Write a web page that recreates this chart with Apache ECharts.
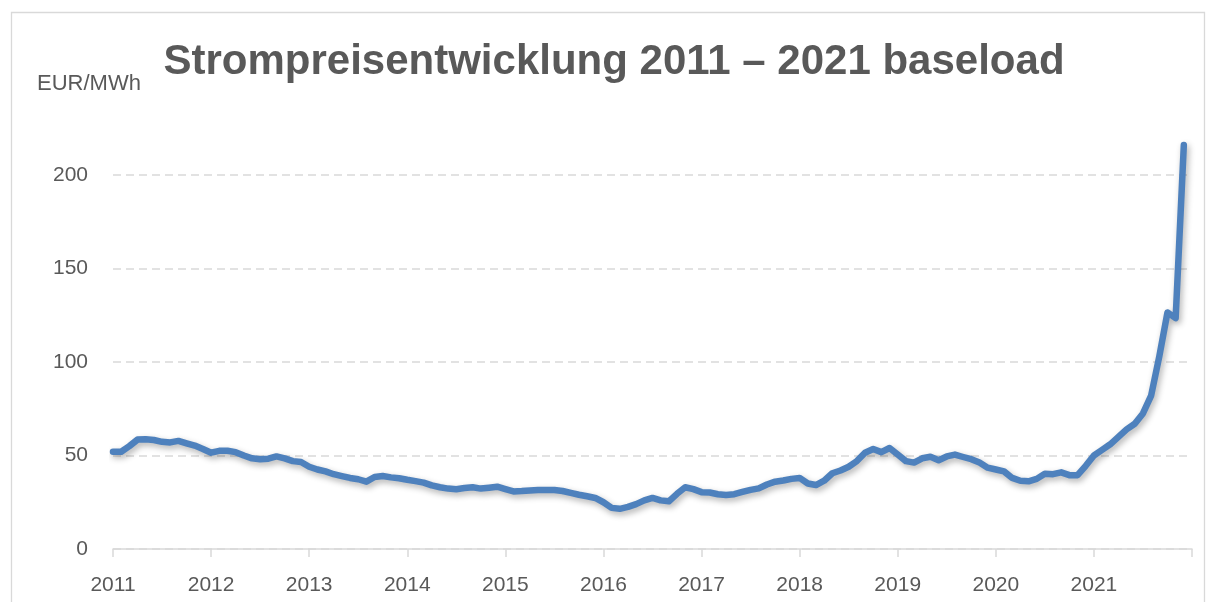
<!DOCTYPE html>
<html>
<head>
<meta charset="utf-8">
<script src="https://cdn.jsdelivr.net/npm/echarts@6/dist/echarts.min.js"></script>
<style>html,body{margin:0;padding:0;background:#fff}#c{width:1214px;height:602px}</style>
</head>
<body>
<div id="c"></div>
<script>
const years = ['2011','2012','2013','2014','2015','2016','2017','2018','2019','2020','2021'];
const yTicks = [0, 50, 100, 150, 200];
// monthly baseload price, EUR/MWh, Jan 2011 .. Dec 2021
const p2011 = [52, 52, 55, 58.5, 58.7, 58.3, 57.3, 57, 57.8, 56.5, 55.3, 53.5];
const p2012 = [51.5, 52.5, 52.5, 51.8, 50, 48.5, 48, 48.3, 49.5, 48.5, 47, 46.5];
const p2013 = [44, 42.5, 41.5, 40, 39, 38, 37.3, 36, 38.5, 39, 38.3, 37.8];
const p2014 = [37, 36.3, 35.5, 34, 33, 32.3, 32, 32.6, 33, 32.3, 32.8, 33.3];
const p2015 = [32, 30.8, 31, 31.3, 31.5, 31.6, 31.6, 31, 30, 29, 28.2, 27.3];
const p2016 = [25, 22, 21.5, 22.5, 24, 26, 27.3, 26, 25.5, 29.5, 33, 32];
const p2017 = [30.4, 30.2, 29.3, 28.9, 29.3, 30.5, 31.6, 32.4, 34.5, 36, 36.6, 37.5];
const p2018 = [38, 35, 34.2, 36.5, 40.5, 42, 44, 47, 51.5, 53.5, 51.8, 54];
const p2019 = [50.5, 47, 46.2, 48.5, 49.3, 47.5, 49.5, 50.5, 49.2, 48, 46.2, 43.5];
const p2020 = [42.5, 41.5, 38, 36.5, 36.2, 37.5, 40.3, 40, 41, 39.5, 39.5, 44.5];
const p2021 = [50, 53, 56, 60, 64, 67, 72.5, 82, 103, 126.5, 123.5, 216];
const prices = [].concat(p2011, p2012, p2013, p2014, p2015, p2016, p2017, p2018, p2019, p2020, p2021);

const chart = echarts.init(document.getElementById('c'));
const txt = '#595959';
chart.setOption({
  animation: false,
  backgroundColor: '#fff',
  grid: { left: 113, right: 22, top: 175, bottom: 53 },
  xAxis: {
    type: 'value', min: 0, max: years.length * 12, interval: 12,
    axisLine: { show: true, onZero: false, lineStyle: { color: '#d9d9d9', width: 1.5 } },
    axisTick: { show: true, length: 8, lineStyle: { color: '#d9d9d9', width: 1.5 } },
    splitLine: { show: false },
    axisLabel: {
      margin: 26, color: txt, fontSize: 21, fontFamily: 'Liberation Sans',
      formatter: v => years[v / 12] || ''
    }
  },
  yAxis: {
    type: 'value', min: yTicks[0], max: yTicks[yTicks.length - 1], interval: 50,
    axisLine: { show: false }, axisTick: { show: false },
    splitLine: { show: true, lineStyle: { color: '#d9d9d9', width: 1.5, type: [8, 5] } },
    axisLabel: { margin: 25, color: txt, fontSize: 21, fontFamily: 'Liberation Sans',
      formatter: v => String(v) }
  },
  series: [{
    type: 'line',
    data: prices.map((v, i) => [i, v]),
    showSymbol: false,
    clip: false,
    smooth: false,
    lineStyle: {
      color: '#4e81bd', width: 6.5, cap: 'round', join: 'round',
      shadowColor: 'rgba(0,0,0,0.3)', shadowBlur: 6, shadowOffsetX: 2, shadowOffsetY: 3
    }
  }],
  graphic: [
    { type: 'rect', silent: true, z: -1,
      shape: { x: 11.5, y: 12.5, width: 1193, height: 620 },
      style: { fill: 'none', stroke: '#d9d9d9', lineWidth: 1.3 } },
    { type: 'text', silent: true,
      style: { x: 614, y: 62, text: 'Strompreisentwicklung 2011 – 2021 baseload',
        fill: txt, font: 'bold 42px "Liberation Sans"', textAlign: 'center', textVerticalAlign: 'middle' } },
    { type: 'text', silent: true,
      style: { x: 37, y: 84, text: 'EUR/MWh', fill: txt,
        font: '22px "Liberation Sans"', textAlign: 'left', textVerticalAlign: 'middle' } }
  ]
});
</script>
</body>
</html>
